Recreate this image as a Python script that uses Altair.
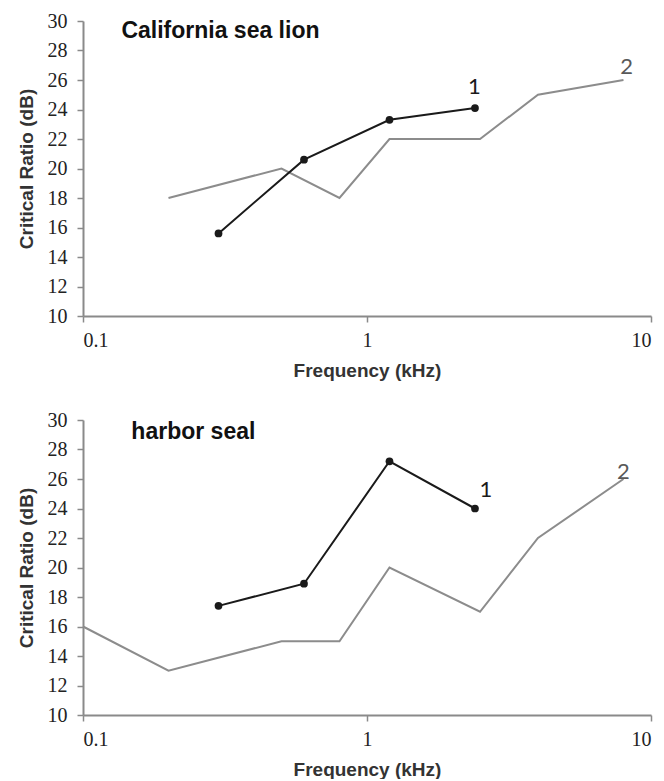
import altair as alt
import pandas as pd

# ---- data ----
sl_freq_1 = [0.3, 0.6, 1.2, 2.4]
sl_cr_1 = [15.6, 20.6, 23.3, 24.1]
sl_freq_2 = [0.2, 0.5, 0.8, 1.2, 2.5, 4, 8]
sl_cr_2 = [18, 20, 18, 22, 22, 25, 26]

hs_freq_1 = [0.3, 0.6, 1.2, 2.4]
hs_cr_1 = [17.4, 18.9, 27.2, 24.0]
hs_freq_2 = [0.1, 0.2, 0.5, 0.8, 1.2, 2.5, 4, 8]
hs_cr_2 = [16, 13, 15, 15, 20, 17, 22, 26]

panel_titles = ["California sea lion", "harbor seal"]
title_pos_x = [0.1365, 0.148]
title_pos_y = [29.3, 29.17]

# series number labels: (x, y)
sl_lab_x = [2.39, 8.2]
sl_lab_y = [25.5, 26.9]
hs_lab_x = [2.62, 8.0]
hs_lab_y = [25.25, 26.5]
series_names = ["1", "2"]

x_ticks = [0.1, 1, 10]
y_ticks = [10, 12, 14, 16, 18, 20, 22, 24, 26, 28, 30]

W, H = 568, 295
LABEL_FONT = "Liberation Sans Narrow"


def panel(f1, c1, f2, c2, lx, ly, title, tx, ty):
    d1 = pd.DataFrame({"f": f1, "cr": c1})
    d2 = pd.DataFrame({"f": f2, "cr": c2})
    xenc = alt.X("f:Q", scale=alt.Scale(type="log", domain=[0.1, 10], nice=False),
                 axis=alt.Axis(values=x_ticks, format="~g", title="Frequency (kHz)",
                               labelFont=LABEL_FONT, labelFontSize=20, labelOverlap=False,
                               labelSeparation=0, labelPadding=8, titlePadding=11))
    yenc = alt.Y("cr:Q", scale=alt.Scale(domain=[10, 30], nice=False, zero=False),
                 axis=alt.Axis(values=y_ticks, title="Critical Ratio (dB)",
                               labelFont=LABEL_FONT, labelFontSize=20, labelOverlap=False,
                               labelSeparation=0, labelPadding=10, titlePadding=11))
    gray = alt.Chart(d2).mark_line(color="#8c8c8c", strokeWidth=2).encode(x=xenc, y=yenc)
    black = alt.Chart(d1).mark_line(color="#1a1a1a", strokeWidth=2).encode(x=xenc, y=yenc)
    pts = alt.Chart(d1).mark_circle(color="#1a1a1a", size=60, opacity=1).encode(x=xenc, y=yenc)
    labs = pd.DataFrame({"f": lx, "cr": ly, "name": series_names,
                         "col": ["#1a1a1a", "#595959"]})
    txt = alt.Chart(labs).mark_text(font="Lato", fontSize=22, align="center",
                                    baseline="middle").encode(
        x=xenc, y=yenc, text="name:N", color=alt.Color("col:N", scale=None))
    tdf = pd.DataFrame({"f": [tx], "cr": [ty], "t": [title]})
    ttl = alt.Chart(tdf).mark_text(font="Liberation Sans", fontWeight="bold", fontSize=23,
                                   align="left", baseline="middle", color="#111").encode(
        x=xenc, y=yenc, text="t:N")
    return alt.layer(gray, black, pts, txt, ttl).properties(width=W, height=H)


top = panel(sl_freq_1, sl_cr_1, sl_freq_2, sl_cr_2, sl_lab_x, sl_lab_y,
            panel_titles[0], title_pos_x[0], title_pos_y[0])
bottom = panel(hs_freq_1, hs_cr_1, hs_freq_2, hs_cr_2, hs_lab_x, hs_lab_y,
               panel_titles[1], title_pos_x[1], title_pos_y[1])

chart = alt.vconcat(top, bottom, spacing=30).properties(
    padding={"left": 17, "top": 11, "right": 6, "bottom": 0},
    background="white",
).configure_view(stroke=None).configure_axis(
    grid=False, labelOverlap=False,
    domainColor="#8a8a8a", domainWidth=2,
    tickColor="#8a8a8a", tickWidth=1.5, tickSize=6,
    labelColor="#222",
    titleFont="Liberation Sans", titleFontWeight="bold", titleFontSize=19, titleColor="#333",
)

chart.save("out.html", embed_options={"renderer": "svg", "actions": False})
